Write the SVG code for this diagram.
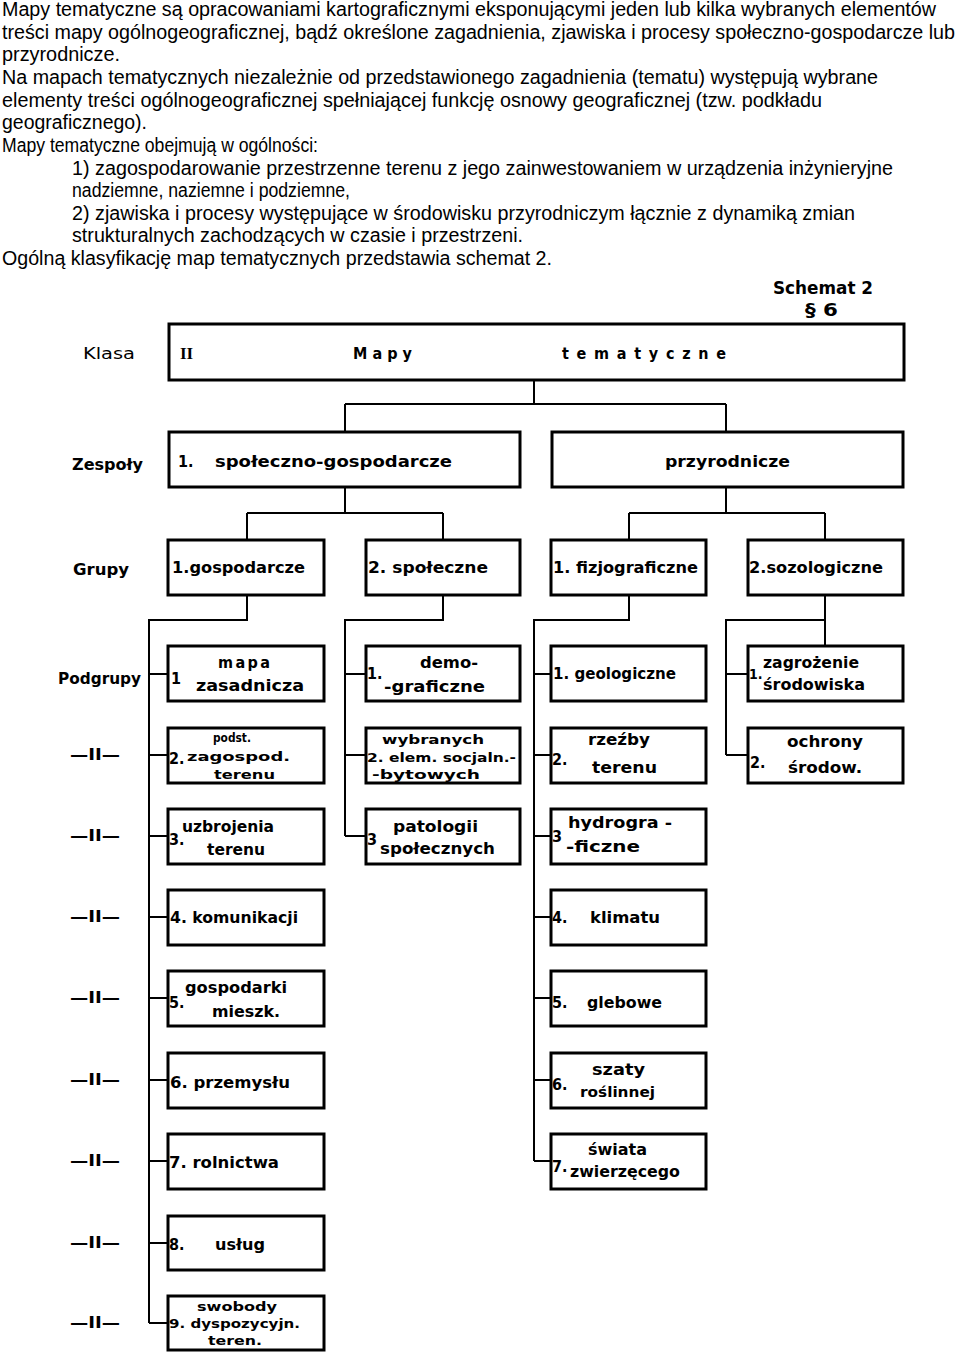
<svg xmlns="http://www.w3.org/2000/svg" width="960" height="1355" viewBox="0 0 960 1355">
<style>
.body{font-family:"Liberation Sans",Arial,sans-serif;font-size:19.5px;fill:#000}
.box{fill:#fff;stroke:#000;stroke-width:3}
.conn{fill:none;stroke:#000;stroke-width:2}
.t{font-family:"DejaVu Sans",sans-serif;font-weight:bold;font-stretch:condensed;font-size:16px;fill:#000}
.lab{font-family:"DejaVu Sans",sans-serif;font-weight:bold;font-stretch:condensed;font-size:16px;fill:#000}
.sm{font-size:14px}
.xs{font-size:13px}
</style>
<rect width="960" height="1355" fill="#fff"/>
<g id="intro-text" class="body">
<text x="2" y="16" textLength="934" lengthAdjust="spacingAndGlyphs">Mapy tematyczne są opracowaniami kartograficznymi eksponującymi jeden lub kilka wybranych elementów</text>
<text x="2" y="39" textLength="953" lengthAdjust="spacingAndGlyphs">treści mapy ogólnogeograficznej, bądź określone zagadnienia, zjawiska i procesy społeczno-gospodarcze lub</text>
<text x="2" y="61" textLength="118" lengthAdjust="spacingAndGlyphs">przyrodnicze.</text>
<text x="2" y="84" textLength="876" lengthAdjust="spacingAndGlyphs">Na mapach tematycznych niezależnie od przedstawionego zagadnienia (tematu) występują wybrane</text>
<text x="2" y="107" textLength="820" lengthAdjust="spacingAndGlyphs">elementy treści ogólnogeograficznej spełniającej funkcję osnowy geograficznej (tzw. podkładu</text>
<text x="2" y="129" textLength="145" lengthAdjust="spacingAndGlyphs">geograficznego).</text>
<text x="2" y="152" textLength="316" lengthAdjust="spacingAndGlyphs">Mapy tematyczne obejmują w ogólności:</text>
<text x="72" y="175" textLength="821" lengthAdjust="spacingAndGlyphs">1) zagospodarowanie przestrzenne terenu z jego zainwestowaniem w urządzenia inżynieryjne</text>
<text x="72" y="197" textLength="278" lengthAdjust="spacingAndGlyphs">nadziemne, naziemne i podziemne,</text>
<text x="72" y="220" textLength="783" lengthAdjust="spacingAndGlyphs">2) zjawiska i procesy występujące w środowisku przyrodniczym łącznie z dynamiką zmian</text>
<text x="72" y="242" textLength="451" lengthAdjust="spacingAndGlyphs">strukturalnych zachodzących w czasie i przestrzeni.</text>
<text x="2" y="265" textLength="550" lengthAdjust="spacingAndGlyphs">Ogólną klasyfikację map tematycznych przedstawia schemat 2.</text>
</g>
<g id="schemat-title" class="lab">
<text x="773" y="294" textLength="100" lengthAdjust="spacingAndGlyphs" font-size="18">Schemat 2</text>
<text x="805" y="316" textLength="33" lengthAdjust="spacingAndGlyphs" font-size="18">§ 6</text>
</g>
<g id="row-labels" class="lab">
<text x="83" y="359" textLength="52" lengthAdjust="spacingAndGlyphs" font-weight="normal">Klasa</text>
<text x="72" y="470" textLength="71" lengthAdjust="spacingAndGlyphs">Zespoły</text>
<text x="73" y="575" textLength="56" lengthAdjust="spacingAndGlyphs">Grupy</text>
<text x="58" y="684" textLength="83" lengthAdjust="spacingAndGlyphs">Podgrupy</text>
<text x="70" y="760" textLength="50" lengthAdjust="spacingAndGlyphs">—II—</text>
<text x="70" y="841" textLength="50" lengthAdjust="spacingAndGlyphs">—II—</text>
<text x="70" y="922" textLength="50" lengthAdjust="spacingAndGlyphs">—II—</text>
<text x="70" y="1003" textLength="50" lengthAdjust="spacingAndGlyphs">—II—</text>
<text x="70" y="1085" textLength="50" lengthAdjust="spacingAndGlyphs">—II—</text>
<text x="70" y="1166" textLength="50" lengthAdjust="spacingAndGlyphs">—II—</text>
<text x="70" y="1248" textLength="50" lengthAdjust="spacingAndGlyphs">—II—</text>
<text x="70" y="1328" textLength="50" lengthAdjust="spacingAndGlyphs">—II—</text>
</g>
<g id="connectors" class="conn">
<path d="M534 380 V404 M345 404 H726 M345 404 V432 M726 404 V432"/>
<path d="M345 487 V513 M247 513 H443 M247 513 V540 M443 513 V540"/>
<path d="M726 487 V513 M629 513 H825 M629 513 V540 M825 513 V540"/>
<path d="M247 595 V620 H149 V1323"/>
<path d="M443 595 V620 H345 V836"/>
<path d="M629 595 V620 H534 V1161"/>
<path d="M825 595 V646 M825 620 H726 V755"/>
<path d="M149 674 H168 M149 755 H168 M149 836 H168 M149 917 H168 M149 998 H168 M149 1080 H168 M149 1161 H168 M149 1243 H168 M149 1323 H168"/>
<path d="M345 674 H366 M345 755 H366 M345 836 H366"/>
<path d="M534 674 H551 M534 755 H551 M534 836 H551 M534 917 H551 M534 998 H551 M534 1080 H551 M534 1161 H551"/>
<path d="M726 674 H748 M726 755 H748"/>
</g>
<g id="klasa">
<rect class="box" x="169" y="324" width="735" height="56"/>
<text x="180" y="359" font-family="Liberation Serif,serif" font-weight="bold" font-size="17">II</text>
<text class="t" x="353" y="359" textLength="59" lengthAdjust="spacing">Mapy</text>
<text class="t" x="562" y="359" textLength="164" lengthAdjust="spacing">tematyczne</text>
</g>
<g id="zespol-1">
<rect class="box" x="169" y="432" width="351" height="55"/>
<text class="t" x="178" y="467" font-weight="normal">1.</text>
<text class="t" x="215" y="467" textLength="237" lengthAdjust="spacingAndGlyphs">społeczno-gospodarcze</text>
</g>
<g id="zespol-2">
<rect class="box" x="552" y="432" width="351" height="55"/>
<text class="t" x="665" y="467" textLength="125" lengthAdjust="spacingAndGlyphs">przyrodnicze</text>
</g>
<g id="grupa-1">
<rect class="box" x="168" y="540" width="156" height="55"/>
<text class="t" x="172" y="573" textLength="133" lengthAdjust="spacingAndGlyphs">1.gospodarcze</text>
</g>
<g id="grupa-2">
<rect class="box" x="366" y="540" width="154" height="55"/>
<text class="t" x="368" y="573" textLength="120" lengthAdjust="spacingAndGlyphs">2.  społeczne</text>
</g>
<g id="grupa-3">
<rect class="box" x="551" y="540" width="155" height="55"/>
<text class="t" x="553" y="573" textLength="145" lengthAdjust="spacingAndGlyphs">1.  fizjograficzne</text>
</g>
<g id="grupa-4">
<rect class="box" x="748" y="540" width="155" height="55"/>
<text class="t" x="749" y="573" textLength="134" lengthAdjust="spacingAndGlyphs">2.sozologiczne</text>
</g>
<g id="p1-1">
<rect class="box" x="168" y="646" width="156" height="55"/>
<text class="t" x="171" y="684">1</text>
<text class="t" x="218" y="668" textLength="52" lengthAdjust="spacing">mapa</text>
<text class="t" x="196" y="691" textLength="108" lengthAdjust="spacingAndGlyphs">zasadnicza</text>
</g>
<g id="p1-2">
<rect class="box" x="168" y="728" width="156" height="55"/>
<text class="t" x="169" y="764">2.</text>
<text class="t xs" x="213" y="742" textLength="38" lengthAdjust="spacingAndGlyphs">podst.</text>
<text class="t xs" x="187" y="761" textLength="103" lengthAdjust="spacingAndGlyphs">zagospod.</text>
<text class="t xs" x="214" y="779" textLength="61" lengthAdjust="spacingAndGlyphs">terenu</text>
</g>
<g id="p1-3">
<rect class="box" x="168" y="809" width="156" height="55"/>
<text class="t" x="169" y="845">3.</text>
<text class="t" x="182" y="832" textLength="92" lengthAdjust="spacingAndGlyphs">uzbrojenia</text>
<text class="t" x="207" y="855" textLength="58" lengthAdjust="spacingAndGlyphs">terenu</text>
</g>
<g id="p1-4">
<rect class="box" x="168" y="890" width="156" height="55"/>
<text class="t" x="170" y="923" textLength="128" lengthAdjust="spacingAndGlyphs">4. komunikacji</text>
</g>
<g id="p1-5">
<rect class="box" x="168" y="971" width="156" height="55"/>
<text class="t" x="169" y="1008">5.</text>
<text class="t" x="185" y="993" textLength="102" lengthAdjust="spacingAndGlyphs">gospodarki</text>
<text class="t" x="212" y="1017" textLength="68" lengthAdjust="spacingAndGlyphs">mieszk.</text>
</g>
<g id="p1-6">
<rect class="box" x="168" y="1053" width="156" height="55"/>
<text class="t" x="170" y="1088" textLength="120" lengthAdjust="spacingAndGlyphs">6. przemysłu</text>
</g>
<g id="p1-7">
<rect class="box" x="168" y="1134" width="156" height="55"/>
<text class="t" x="169" y="1168" textLength="110" lengthAdjust="spacingAndGlyphs">7. rolnictwa</text>
</g>
<g id="p1-8">
<rect class="box" x="168" y="1216" width="156" height="54"/>
<text class="t" x="169" y="1250">8.</text>
<text class="t" x="215" y="1250" textLength="50" lengthAdjust="spacingAndGlyphs">usług</text>
</g>
<g id="p1-9">
<rect class="box" x="168" y="1296" width="156" height="54"/>
<text class="t xs" x="197" y="1311" textLength="80" lengthAdjust="spacingAndGlyphs">swobody</text>
<text class="t xs" x="169" y="1328" textLength="131" lengthAdjust="spacingAndGlyphs">9. dyspozycyjn.</text>
<text class="t xs" x="208" y="1345" textLength="54" lengthAdjust="spacingAndGlyphs">teren.</text>
</g>
<g id="p2-1">
<rect class="box" x="366" y="646" width="154" height="55"/>
<text class="t" x="367" y="679">1.</text>
<text class="t" x="420" y="668" textLength="58" lengthAdjust="spacingAndGlyphs">demo-</text>
<text class="t" x="384" y="692" textLength="101" lengthAdjust="spacingAndGlyphs">-graficzne</text>
</g>
<g id="p2-2">
<rect class="box" x="366" y="728" width="154" height="55"/>
<text class="t xs" x="382" y="744" textLength="102" lengthAdjust="spacingAndGlyphs">wybranych</text>
<text class="t xs" x="367" y="762" textLength="149" lengthAdjust="spacingAndGlyphs">2. elem. socjaln.-</text>
<text class="t xs" x="372" y="779" textLength="108" lengthAdjust="spacingAndGlyphs">-bytowych</text>
</g>
<g id="p2-3">
<rect class="box" x="366" y="809" width="154" height="55"/>
<text class="t" x="367" y="845">3</text>
<text class="t" x="393" y="832" textLength="85" lengthAdjust="spacingAndGlyphs">patologii</text>
<text class="t" x="380" y="854" textLength="115" lengthAdjust="spacingAndGlyphs">społecznych</text>
</g>
<g id="p3-1">
<rect class="box" x="551" y="646" width="155" height="55"/>
<text class="t" x="553" y="679" textLength="123" lengthAdjust="spacingAndGlyphs">1. geologiczne</text>
</g>
<g id="p3-2">
<rect class="box" x="551" y="728" width="155" height="55"/>
<text class="t" x="552" y="765">2.</text>
<text class="t" x="588" y="745" textLength="62" lengthAdjust="spacingAndGlyphs">rzeźby</text>
<text class="t" x="592" y="773" textLength="65" lengthAdjust="spacingAndGlyphs">terenu</text>
</g>
<g id="p3-3">
<rect class="box" x="551" y="809" width="155" height="55"/>
<text class="t" x="552" y="842">3</text>
<text class="t" x="568" y="828" textLength="104" lengthAdjust="spacingAndGlyphs">hydrogra -</text>
<text class="t" x="566" y="852" textLength="74" lengthAdjust="spacingAndGlyphs">-ficzne</text>
</g>
<g id="p3-4">
<rect class="box" x="551" y="890" width="155" height="55"/>
<text class="t" x="552" y="923">4.</text>
<text class="t" x="590" y="923" textLength="70" lengthAdjust="spacingAndGlyphs">klimatu</text>
</g>
<g id="p3-5">
<rect class="box" x="551" y="971" width="155" height="55"/>
<text class="t" x="552" y="1008">5.</text>
<text class="t" x="587" y="1008" textLength="75" lengthAdjust="spacingAndGlyphs">glebowe</text>
</g>
<g id="p3-6">
<rect class="box" x="551" y="1053" width="155" height="55"/>
<text class="t" x="552" y="1090">6.</text>
<text class="t" x="592" y="1075" textLength="53" lengthAdjust="spacingAndGlyphs">szaty</text>
<text class="t sm" x="580" y="1097" textLength="75" lengthAdjust="spacingAndGlyphs">roślinnej</text>
</g>
<g id="p3-7">
<rect class="box" x="551" y="1134" width="155" height="55"/>
<text class="t" x="552" y="1172">7.</text>
<text class="t" x="588" y="1155" textLength="59" lengthAdjust="spacingAndGlyphs">świata</text>
<text class="t" x="570" y="1177" textLength="110" lengthAdjust="spacingAndGlyphs">zwierzęcego</text>
</g>
<g id="p4-1">
<rect class="box" x="748" y="646" width="155" height="55"/>
<text class="t sm" x="749" y="679">1.</text>
<text class="t" x="763" y="668" textLength="96" lengthAdjust="spacingAndGlyphs">zagrożenie</text>
<text class="t" x="763" y="690" textLength="102" lengthAdjust="spacingAndGlyphs">środowiska</text>
</g>
<g id="p4-2">
<rect class="box" x="748" y="728" width="155" height="55"/>
<text class="t" x="750" y="768">2.</text>
<text class="t" x="787" y="747" textLength="76" lengthAdjust="spacingAndGlyphs">ochrony</text>
<text class="t" x="788" y="773" textLength="74" lengthAdjust="spacingAndGlyphs">środow.</text>
</g>
</svg>
